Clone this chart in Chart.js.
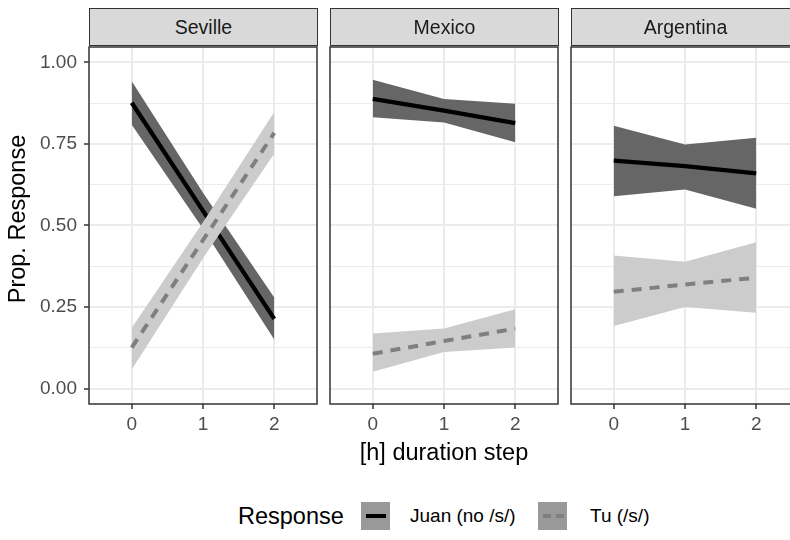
<!DOCTYPE html>
<html>
<head>
<meta charset="utf-8">
<script src="https://cdn.jsdelivr.net/npm/chart.js@4.4.1/dist/chart.umd.min.js"></script>
<style>
  html, body { margin: 0; padding: 0; background: #fff; }
  #wrap { position: relative; width: 790px; height: 540px; overflow: hidden; font-family: "Liberation Sans", Arial, sans-serif; }
  canvas { position: absolute; top: 0; }
  .strip { position: absolute; top: 8px; height: 38px; background: #d9d9d9; border: 1.5px solid #333;
           box-sizing: border-box; color: #1a1a1a; font-size: 19.5px; text-align: center; line-height: 37px; }
  .title { position: absolute; color: #000; font-size: 23.5px; white-space: nowrap; }
  .key { position: absolute; top: 502px; width: 29px; height: 28px; background: #999; }
  .seg { position: absolute; height: 4px; top: 12px; }
  .lab { position: absolute; top: 504px; font-size: 19px; line-height: 24px; color: #000; white-space: nowrap; }
</style>
</head>
<body>
<div id="wrap">
  <canvas id="p0" width="320" height="442" style="left:0px"></canvas>
  <canvas id="p1" width="240" height="442" style="left:320px"></canvas>
  <canvas id="p2" width="240" height="442" style="left:561px"></canvas>

  <div class="strip" style="left:89px;width:229px">Seville</div>
  <div class="strip" style="left:330px;width:229px">Mexico</div>
  <div class="strip" style="left:571px;width:229px">Argentina</div>

  <div class="title" style="left:0;top:205px;width:34px;height:28px;line-height:28px;text-align:center">
    <div style="position:absolute;left:17px;top:14px;transform:translate(-50%,-50%) rotate(-90deg)">Prop. Response</div>
  </div>
  <div class="title" style="left:244px;width:400px;top:438px;line-height:28px;text-align:center">[h] duration step</div>

  <div class="title" style="left:238px;top:502px;line-height:28px">Response</div>
  <div class="key" style="left:361px"><div class="seg" style="left:5px;width:20px;background:#000"></div></div>
  <div class="lab" style="left:410px">Juan (no /s/)</div>
  <div class="key" style="left:538px">
    <div class="seg" style="left:5px;width:8px;background:#7f7f7f"></div>
    <div class="seg" style="left:18px;width:8px;background:#7f7f7f"></div>
  </div>
  <div class="lab" style="left:590px">Tu (/s/)</div>
</div>
<script>
const regions = ["Seville", "Mexico", "Argentina"];
const steps = [0, 1, 2];
const yMajor = [0, 0.25, 0.5, 0.75, 1];
const yGrid = [0, 0.125, 0.25, 0.375, 0.5, 0.625, 0.75, 0.875, 1];

// one row per region, one value per duration step
const juanFit   = [[0.876, 0.545, 0.214], [0.888, 0.852, 0.814], [0.699, 0.682, 0.660]];
const juanLower = [[0.809, 0.490, 0.151], [0.832, 0.816, 0.755], [0.590, 0.610, 0.551]];
const juanUpper = [[0.942, 0.600, 0.279], [0.947, 0.888, 0.873], [0.806, 0.748, 0.769]];
const tuFit     = [[0.126, 0.455, 0.784], [0.107, 0.146, 0.184], [0.297, 0.319, 0.340]];
const tuLower   = [[0.059, 0.400, 0.720], [0.052, 0.112, 0.126], [0.192, 0.250, 0.233]];
const tuUpper   = [[0.187, 0.510, 0.848], [0.169, 0.184, 0.243], [0.408, 0.389, 0.449]];

const font = "'Liberation Sans', Arial, sans-serif";

const pts = arr => steps.map((s, i) => ({ x: s, y: arr[i] }));

const panelBorder = {
  id: "panelBorder",
  afterDatasetsDraw(chart) {
    const a = chart.chartArea, ctx = chart.ctx;
    ctx.save();
    ctx.strokeStyle = "#333";
    ctx.lineWidth = 1.5;
    ctx.strokeRect(a.left, a.top, a.right - a.left, a.bottom - a.top);
    ctx.restore();
  }
};

function makePanel(r) {
  const first = r === 0;
  const canva = document.querySelector("#p" + r);
  const isMajor = v => yMajor.some(m => Math.abs(m - v) < 1e-9);
  return new Chart(canva, {
    type: "line",
    data: {
      // index 0 is drawn last (on top)
      datasets: [
        { data: pts(tuFit[r]), borderColor: "#7f7f7f", borderWidth: 4, borderDash: [10, 8], fill: false },
        { data: pts(tuUpper[r]), borderWidth: 0, fill: "+1", backgroundColor: "#cccccc" },
        { data: pts(tuLower[r]), borderWidth: 0, fill: false },
        { data: pts(juanFit[r]), borderColor: "#000", borderWidth: 4.3, fill: false },
        { data: pts(juanUpper[r]), borderWidth: 0, fill: "+1", backgroundColor: "#666666" },
        { data: pts(juanLower[r]), borderWidth: 0, fill: false }
      ]
    },
    options: {
      responsive: false,
      devicePixelRatio: 1,
      animation: false,
      events: [],
      elements: { point: { radius: 0 }, line: { tension: 0, borderCapStyle: "butt" } },
      layout: { padding: { top: 47, right: first ? 3 : 2, left: 0, bottom: 0 } },
      plugins: { legend: { display: false }, tooltip: { enabled: false } },
      scales: {
        x: {
          type: "linear", min: -0.6, max: 2.6,
          afterBuildTicks: s => { s.ticks = steps.map(v => ({ value: v })); },
          afterFit: s => { s.height = 38; },
          ticks: { color: "#4d4d4d", font: { family: font, size: 19 }, padding: 4, autoSkip: false, maxRotation: 0 },
          grid: { color: "#ebebeb", lineWidth: 2, tickLength: 5, tickColor: "#333", tickWidth: 1.5 },
          border: { display: false }
        },
        y: {
          type: "linear", min: -0.047, max: 1.047,
          afterBuildTicks: s => { s.ticks = yGrid.map(v => ({ value: v })); },
          afterFit: s => { s.width = first ? 89 : 10; },
          ticks: {
            display: first, autoSkip: false, padding: 7, color: "#4d4d4d",
            font: { family: font, size: 19 },
            callback: v => isMajor(v) ? v.toFixed(2) : ""
          },
          grid: {
            color: "#ebebeb",
            lineWidth: c => isMajor(c.tick.value) ? 2 : 1,
            drawTicks: first, tickLength: 5, tickWidth: 1.5,
            tickColor: c => isMajor(c.tick.value) ? "#333" : "rgba(0,0,0,0)"
          },
          border: { display: false }
        }
      }
    },
    plugins: [panelBorder]
  });
}

regions.forEach((name, r) => makePanel(r));
</script>
</body>
</html>
